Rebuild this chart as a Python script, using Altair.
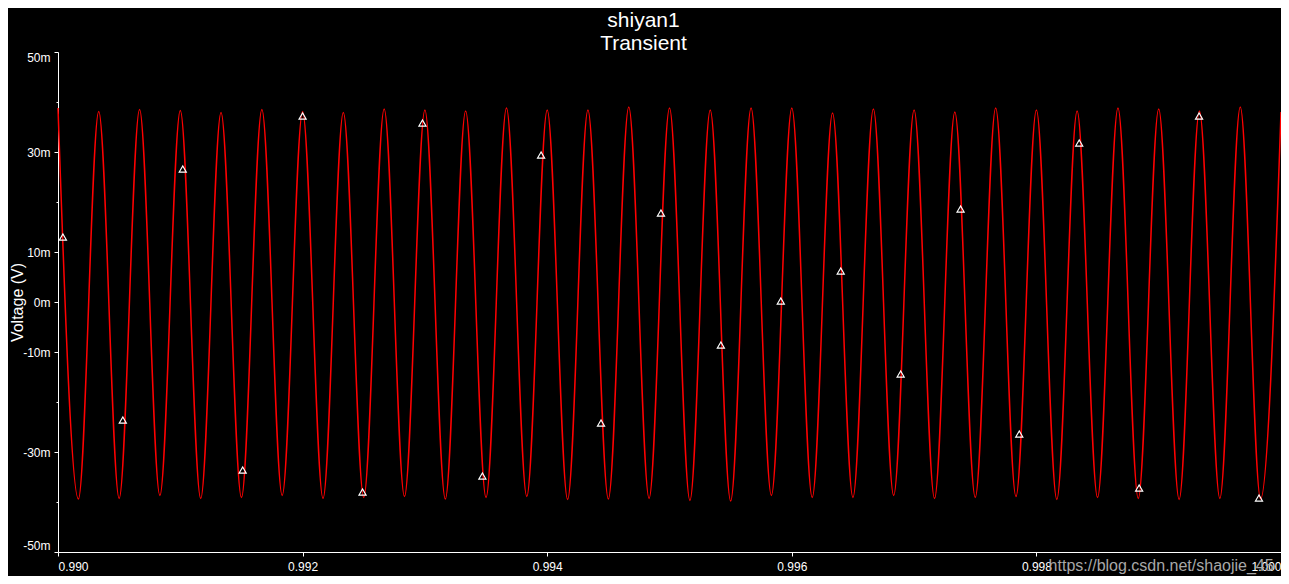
import altair as alt
import pandas as pd

# ---- data ----
# red waveform: successive extrema (peaks / troughs) of the trace, time in s, value in mV
wave_time = [
    0.990000, 0.990167, 0.990333, 0.990500, 0.990667, 0.990833,
    0.991000, 0.991167, 0.991333, 0.991500, 0.991667, 0.991833,
    0.992000, 0.992167, 0.992333, 0.992500, 0.992667, 0.992833,
    0.993000, 0.993167, 0.993333, 0.993500, 0.993667, 0.993833,
    0.994000, 0.994167, 0.994333, 0.994500, 0.994667, 0.994833,
    0.995000, 0.995167, 0.995333, 0.995500, 0.995667, 0.995833,
    0.996000, 0.996167, 0.996333, 0.996500, 0.996667, 0.996833,
    0.997000, 0.997167, 0.997333, 0.997500, 0.997667, 0.997833,
    0.998000, 0.998167, 0.998333, 0.998500, 0.998667, 0.998833,
    0.999000, 0.999167, 0.999333, 0.999500, 0.999667, 0.999833,
    1.000000,
]
wave_mv = [
    38.8, -39.4, 38.1, -39.3, 38.5, -38.7,
    38.3, -39.3, 37.9, -39.1, 38.5, -38.7,
    38.1, -39.3, 37.9, -39.1, 38.6, -38.9,
    38.4, -39.4, 38.2, -39.1, 38.8, -38.9,
    38.4, -39.5, 38.4, -39.4, 39.0, -39.3,
    38.8, -39.7, 38.4, -39.8, 38.8, -38.7,
    38.8, -39.1, 37.8, -39.1, 38.6, -38.7,
    38.4, -39.3, 38.0, -39.1, 38.8, -38.9,
    38.4, -39.5, 38.2, -39.1, 38.8, -39.3,
    38.6, -39.5, 38.2, -39.3, 39.0, -39.4,
    38.0,
]

# white triangle markers
marker_time = [
    0.99004, 0.99053, 0.99102, 0.99151, 0.99200, 0.99249, 0.99298,
    0.99347, 0.99395, 0.99444, 0.99493, 0.99542, 0.99591, 0.99640,
    0.99689, 0.99738, 0.99786, 0.99835, 0.99884, 0.99933, 0.99982,
]
marker_mv = [
    13.0, -23.6, 26.6, -33.6, 37.2, -38.0, 35.8,
    -34.8, 29.4, -24.2, 17.8, -8.6, 0.2, 6.2,
    -14.4, 18.6, -26.4, 31.8, -37.2, 37.2, -39.2,
]

x_ticks = [0.990, 0.992, 0.994, 0.996, 0.998, 1.000]
y_ticks = [-50, -40, -30, -20, -10, 0, 10, 20, 30, 40, 50]

title_lines = ["shiyan1", "Transient"]
y_title = "Voltage (V)"

watermark_text = ["https://blog.csdn.net/shaojie_45"]
watermark_time = [0.99994]
watermark_mv = [-52.8]

FONT = "Liberation Sans"

wave_df = pd.DataFrame({"t": wave_time, "v": wave_mv})
mark_df = pd.DataFrame({"t": marker_time, "v": marker_mv})
wm_df = pd.DataFrame({"t": watermark_time, "v": watermark_mv, "txt": watermark_text})

minor_test = "abs(datum.value) == 20 || abs(datum.value) == 40"

x_enc = alt.X(
    "t:Q",
    scale=alt.Scale(domain=[0.990, 1.000], nice=False, zero=False),
    axis=alt.Axis(
        values=x_ticks,
        labelExpr="format(datum.value, '.3f')",
        labelFlush=True,
        labelOverlap=False,
        title=None,
        grid=False,
        tickSize=4,
        labelPadding=5,
        labelFontSize=12,
        labelFont=FONT,
        labelColor="white",
        domainColor="white",
        tickColor="white",
    ),
)
y_enc = alt.Y(
    "v:Q",
    scale=alt.Scale(domain=[-50, 50], nice=False),
    axis=alt.Axis(
        values=y_ticks,
        labelExpr=f"({minor_test}) ? '' : datum.value + 'm'",
        tickSize={"condition": {"test": minor_test, "value": 2}, "value": 4},
        labelPadding=4,
        labelFlush=True,
        labelOverlap=False,
        grid=False,
        title=y_title,
        titleFont=FONT,
        titleFontSize=16,
        titleFontWeight="normal",
        titleColor="white",
        titleAngle=270,
        titleBaseline="bottom",
        titleAlign="center",
        titleX=-33,
        titleY=250,
        labelFontSize=12,
        labelFont=FONT,
        labelColor="white",
        domainColor="white",
        tickColor="white",
    ),
)

line = alt.Chart(wave_df).mark_line(
    color="#ff0000", strokeWidth=1.5, interpolate="monotone"
).encode(x=x_enc, y=y_enc)

points = alt.Chart(mark_df).mark_point(
    shape="triangle-up", filled=False, color="white", strokeWidth=1.2, size=50, opacity=1
).encode(x="t:Q", y="v:Q")

watermark = alt.Chart(wm_df).mark_text(
    align="right", baseline="middle", font=FONT, fontSize=16, color="#a8a8a8"
).encode(x="t:Q", y="v:Q", text="txt:N")

chart = (
    alt.layer(line, points, watermark)
    .properties(
        width=1223,
        height=500,
        padding={"left": 50, "top": 44, "right": 0, "bottom": 24},
        autosize=alt.AutoSizeParams(type="none"),
        background="black",
        title=alt.TitleParams(
            title_lines,
            font=FONT,
            fontSize=21,
            fontWeight="normal",
            color="white",
            anchor="middle",
            dx=-26,
            offset=-3,
            lineHeight=23,
        ),
    )
    .configure_view(stroke=None)
)

chart.save("out.html", embed_options={"renderer": "svg", "actions": False})
